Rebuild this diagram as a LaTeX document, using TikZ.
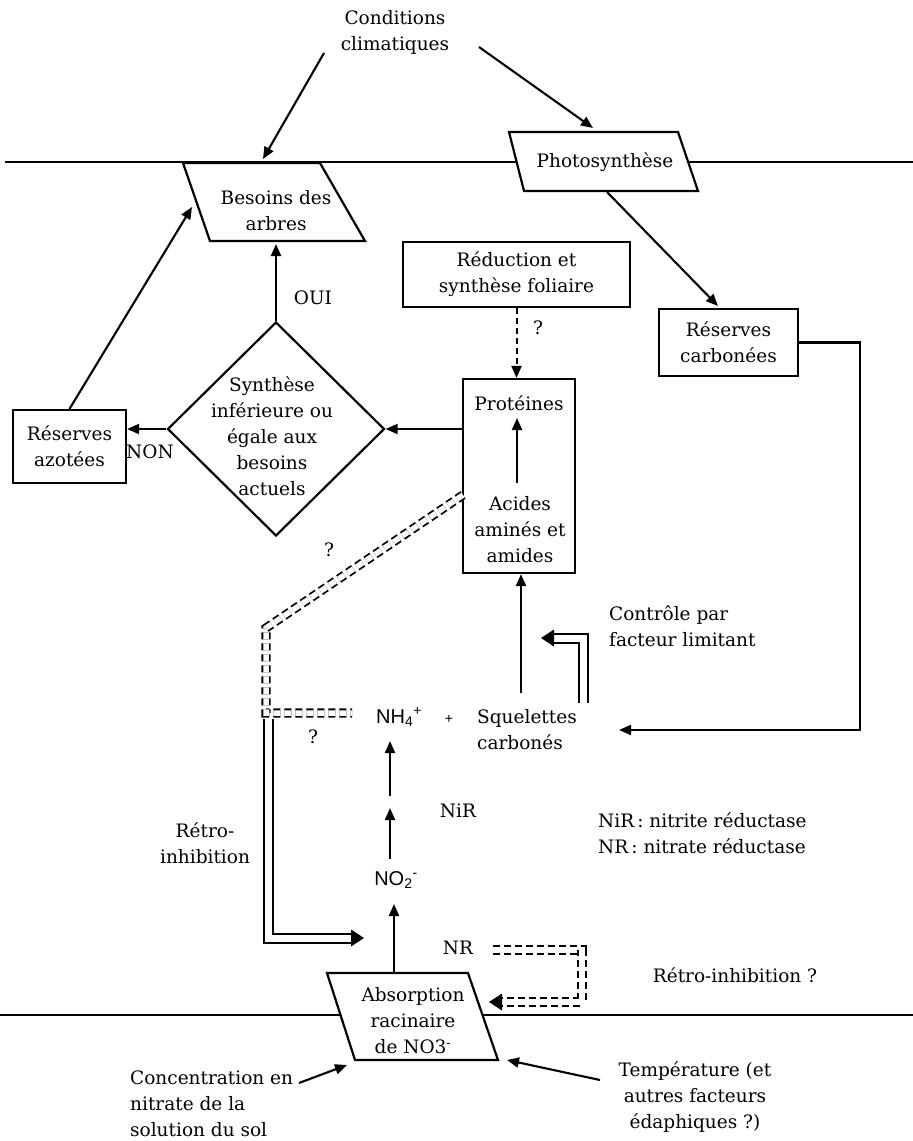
\documentclass[tikz,border=0pt]{standalone}
\usepackage{fontspec}
\setmainfont{DejaVu Serif}
\newfontfamily\chemfont{Liberation Sans}
\usetikzlibrary{arrows.meta,shapes.geometric}
\begin{document}
\begin{tikzpicture}[x=1pt,y=-1pt,
  every node/.style={font=\fontsize{18.5}{26}\selectfont, inner sep=0pt, align=center},
  ln/.style={line width=2.2pt, line join=miter},
  box/.style={draw, line width=2.2pt},
  arr/.style={line width=2.1pt, -{Triangle[length=12pt,width=10pt]}},
  dsh/.style={line width=2pt, dash pattern=on 6pt off 4pt, -{Triangle[length=12pt,width=10pt]}},
  dbl/.style={double, double distance=7pt, line width=2pt, line join=miter},
  ddbl/.style={double, double distance=5.5pt, line width=1.8pt, dash pattern=on 7pt off 4pt, line join=miter},
  head/.style={fill=black},
  chem/.style={font=\chemfont\fontsize{20}{26}\selectfont}
]
\useasboundingbox (0,0) rectangle (913,1141);

% ---- horizon lines
\coordinate (tlA) at (5,162);
\coordinate (phL) at (516,162);
\coordinate (phR) at (688,162);
\coordinate (tlB) at (913,162);
\draw[ln] (tlA) -- (phL);
\draw[ln] (phR) -- (tlB);
\coordinate (blA) at (0,1015);
\coordinate (abL) at (341,1015);
\coordinate (abR) at (482,1015);
\coordinate (blB) at (913,1015);
\draw[ln] (blA) -- (abL);
\draw[ln] (abR) -- (blB);

% ---- parallelograms
\draw[ln] (183,163) -- (320,163) -- (365,241) -- (210,241) -- cycle;
\draw[ln] (509,132) -- (678,132) -- (698,191) -- (524,191) -- cycle;
\draw[ln] (327,973) -- (468,973) -- (498,1060) -- (355,1060) -- cycle;

% ---- nodes
\node (cond) at (395,32) {Conditions\\climatiques};
\node (phot) at (605,162) {Photosynthèse};
\node (bes) at (276,211) {Besoins des\\arbres};
\node[box, minimum width=227pt, minimum height=65pt] (red) at (516.5,274.5) {Réduction et\\synthèse foliaire};
\node[box, minimum width=139pt, minimum height=67pt] (resc) at (728.5,342.5) {Réserves\\carbonées};
\node[box, minimum width=112pt, minimum height=194pt] (prot) at (519,476) {};
\node (protT) at (519,403) {Protéines};
\node (acid) at (520,530) {Acides\\aminés et\\amides};
\node[diamond, draw, line width=2.2pt, minimum width=217pt, minimum height=214pt] (dia) at (276,429) {};
\node (diaT) at (272,436) {Synthèse\\inférieure ou\\égale aux\\besoins\\actuels};
\node[box, minimum width=113pt, minimum height=73pt] (raz) at (69.5,446.5) {Réserves\\azotées};
\node (non) at (150,452) {NON};
\node (oui) at (313,298) {OUI};
\node (q1) at (538,328) {?};
\node (q2) at (329,550) {?};
\node (q3) at (313,737) {?};
\node[chem, anchor=west] (nh4) at (376,717) {NH\textsubscript{4}\textsuperscript{+}};
\node[font=\chemfont\fontsize{14}{16}\selectfont] (plus) at (449,719) {+};
\node[anchor=west, align=left] (sq) at (477,730) {Squelettes\\carbonés};
\node[anchor=west, align=left] (ctl) at (609,626) {Contrôle par\\facteur limitant};
\node[chem] (no2) at (396,880) {NO\textsubscript{2}\textsuperscript{-}};
\node (nir) at (458,811) {NiR};
\node[anchor=west, align=left] (leg) at (598,833) {NiR\,:\ nitrite réductase\\NR\,:\ nitrate réductase};
\node (retro) at (205,843) {Rétro-\\inhibition};
\node (nr) at (458,948) {NR};
\node (abs) at (413,1021) {Absorption\\racinaire\\de NO3\textsuperscript{-}};
\node (retro2) at (735,975) {Rétro-inhibition ?};
\node[anchor=west, align=left] (conc) at (130,1104) {Concentration en\\nitrate de la\\solution du sol};
\node (temp) at (695,1097) {Température (et\\autres facteurs\\édaphiques ?)};

% ---- connector coordinates
\coordinate (cA) at (324,53);
\coordinate (besTop) at (263,159);
\coordinate (cB) at (479,47);
\coordinate (phTop) at (593,128);
\coordinate (phBot) at (607,192);
\coordinate (rescTop) at (718,306);
\coordinate (besLeft) at (192,207);
\coordinate (besBot) at (276,244);
\coordinate (pa1) at (517,483);
\coordinate (pa2) at (517,418);
\coordinate (sqUp) at (521,693);
\coordinate (rc1) at (860,342.5);
\coordinate (rc2) at (860,730);
\coordinate (sqR) at (619,730);
\coordinate (n1) at (390,859);
\coordinate (n2) at (390,808);
\coordinate (n3) at (390,796);
\coordinate (n4) at (390,741);
\coordinate (abTop) at (394,972);
\coordinate (no2Bot) at (394,904);
\coordinate (concA) at (299,1083);
\coordinate (abBL) at (347,1065);
\coordinate (tempA) at (600,1080);
\coordinate (abBR) at (507,1060);

% ---- connectors
\draw[arr] (cA) -- (besTop);
\draw[arr] (cB) -- (phTop);
\draw[arr] (phBot) -- (rescTop);
\draw[arr] (raz.north) -- (besLeft);
\draw[arr] (dia.north) -- (besBot);
\draw[arr] (dia.east -| prot.west) -- (dia.east);
\draw[arr] (dia.west) -- (dia.west -| raz.east);
\draw[dsh] (red.south) -- (red.south |- prot.north);
\draw[arr] (pa1) -- (pa2);
\draw[arr] (sqUp) -- (sqUp |- prot.south);
\draw[arr, line join=miter] (resc.east) -- (rc1) -- (rc2) -- (sqR);
\draw[arr] (n1) -- (n2);
\draw[arr] (n3) -- (n4);
\draw[arr] (abTop) -- (no2Bot);
\draw[arr] (concA) -- (abBL);
\draw[arr] (tempA) -- (abBR);

% double dashed: proteins <-> NH4
\coordinate (dd0) at (463,495);
\coordinate (dd1) at (266,628);
\coordinate (dd2) at (266,713);
\coordinate (dd3) at (352,713);
\draw[ddbl] (dd0) -- (dd1) -- (dd2) -- (dd3);

% solid double: retro-inhibition
\coordinate (rs0) at (268,719);
\coordinate (rs1) at (268,938);
\coordinate (rs2) at (354,938);
\coordinate (rsT) at (364,938);
\draw[dbl] (rs0) -- (rs1) -- (rs2);
\fill[head] (rsT) -- ++(-13,-8.5) -- ++(0,17) -- cycle;

% solid double: controle par facteur limitant
\coordinate (ct0) at (583,703);
\coordinate (ct1) at (583,638);
\coordinate (ct2) at (552,638);
\coordinate (ctT) at (541,638);
\draw[dbl] (ct0) -- (ct1) -- (ct2);
\fill[head] (ctT) -- ++(13,-8.5) -- ++(0,17) -- cycle;

% double dashed: NR feedback
\coordinate (nr0) at (493,950);
\coordinate (nr1) at (582,950);
\coordinate (nr2) at (582,1002);
\coordinate (nr3) at (500,1002);
\coordinate (nrT) at (489,1002);
\draw[ddbl, double distance=6.5pt] (nr0) -- (nr1) -- (nr2) -- (nr3);
\fill[head] (nrT) -- ++(13,-8.5) -- ++(0,17) -- cycle;
\end{tikzpicture}
\end{document}
